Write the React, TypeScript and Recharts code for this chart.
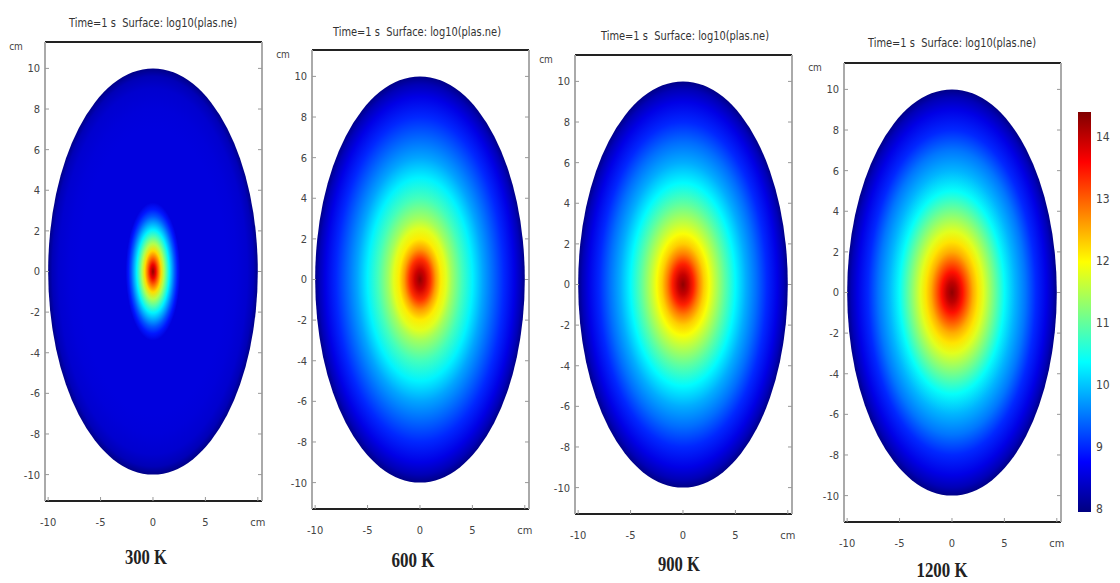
import React from 'react';
import { ScatterChart, XAxis, YAxis, ReferenceArea } from 'recharts';

// temperature of each case
const panelNames = ['300 K', '600 K', '900 K', '1200 K'];
const titleText = 'Time=1 s  Surface: log10(plas.ne)';

const xTicks = [-10, -5, 0, 5, 10];
const yTicks = [-10, -8, -6, -4, -2, 0, 2, 4, 6, 8, 10];
const colorTicks = [8, 9, 10, 11, 12, 13, 14];
const colorRange = [7.95, 14.4];

// log10(ne) read along the radius (fraction of the 10 cm boundary)
const radialStops = [0, 0.05, 0.1, 0.15, 0.2, 0.25, 0.3, 0.4, 0.5, 0.6, 0.7, 0.8, 0.9, 0.96, 1];
const ne300 = [8.55, 8.55, 8.55, 8.55, 8.55, 8.55, 8.55, 8.55, 8.55, 8.55, 8.55, 8.52, 8.45, 8.3, 8.0];
const ne600 = [14.3, 13.9, 13.3, 12.6, 12.1, 11.8, 11.4, 10.8, 10.3, 9.8, 9.4, 9.0, 8.6, 8.3, 8.0];
const ne900 = [14.3, 13.95, 13.4, 12.8, 12.3, 11.95, 11.6, 10.95, 10.35, 9.85, 9.45, 9.0, 8.6, 8.3, 8.0];
const ne1200 = [14.3, 14.0, 13.5, 13.0, 12.5, 12.15, 11.8, 11.1, 10.4, 9.9, 9.5, 9.0, 8.6, 8.3, 8.0];

// small hot spot at 300 K (half-widths in cm, profile on its own radius)
const blobExtent300 = [2.6, 3.4];
const blobStops = [0, 0.1, 0.2, 0.3, 0.4, 0.5, 0.6, 0.7, 0.8, 0.9, 1];
const blob300 = [14.3, 13.7, 12.9, 12.2, 11.5, 10.9, 10.3, 9.8, 9.3, 8.9, 8.55];

const profiles = [ne300, ne600, ne900, ne1200];

// plot frames
const panelLeft = [45, 312, 575, 844];
const panelTop = [42, 50, 55, 63];

const clamp = (v: number) => Math.max(0, Math.min(1, v));
function jet(v: number) {
  const t = clamp((v - colorRange[0]) / (colorRange[1] - colorRange[0]));
  const r = clamp(Math.min(4 * t - 1.5, -4 * t + 4.5));
  const g = clamp(Math.min(4 * t - 0.5, -4 * t + 3.5));
  const b = clamp(Math.min(4 * t + 0.5, -4 * t + 2.5));
  return `rgb(${Math.round(r * 255)},${Math.round(g * 255)},${Math.round(b * 255)})`;
}

const narrow = "'Liberation Sans Narrow', 'DejaVu Sans Condensed', sans-serif";
const tickFont = { fontSize: 11, fill: '#444', fontFamily: narrow };
const noTick = () => <g />;

function ellipseShape(id: string, stops: number[], values: number[]) {
  return (p: any) => (
    <g>
      <defs>
        <radialGradient id={id} cx="50%" cy="50%" r="50%">
          {stops.map((s, i) => (
            <stop key={i} offset={`${s * 100}%`} stopColor={jet(values[i])} />
          ))}
        </radialGradient>
      </defs>
      <ellipse cx={p.x + p.width / 2} cy={p.y + p.height / 2} rx={p.width / 2} ry={p.height / 2} fill={`url(#${id})`} />
    </g>
  );
}

function Panel({ idx }: { idx: number }) {
  return (
    <div style={{ position: 'absolute', left: panelLeft[idx] - 45, top: panelTop[idx] - 40 }}>
      <ScatterChart width={277} height={539} margin={{ top: 38, right: 13, bottom: 10, left: 0 }}>
        <XAxis xAxisId="b" type="number" dataKey="x" domain={[-10.3, 10.4]} allowDataOverflow ticks={xTicks}
          tickFormatter={(v: number) => (v === 10 ? 'cm' : String(v))} tick={tickFont} height={30}
          tickSize={-4} tickMargin={21} axisLine={{ stroke: '#222', strokeWidth: 2 }} tickLine={{ stroke: '#999' }} />
        <XAxis xAxisId="t" orientation="top" type="number" domain={[-10.3, 10.4]} allowDataOverflow ticks={xTicks}
          tick={noTick} height={2} tickSize={-4} axisLine={{ stroke: '#222', strokeWidth: 2 }} tickLine={{ stroke: '#999' }} />
        <YAxis yAxisId="l" type="number" dataKey="y" domain={[-11.3, 11.3]} allowDataOverflow ticks={yTicks}
          tick={tickFont} width={45} tickSize={-4} tickMargin={9}
          axisLine={{ stroke: '#aaa', strokeWidth: 2 }} tickLine={{ stroke: '#999' }} />
        <YAxis yAxisId="r" orientation="right" type="number" domain={[-11.3, 11.3]} allowDataOverflow ticks={yTicks}
          tick={noTick} width={2} tickSize={-4} axisLine={{ stroke: '#aaa', strokeWidth: 2 }} tickLine={{ stroke: '#999' }} />
        <ReferenceArea xAxisId="b" yAxisId="l" x1={-10} x2={10} y1={-10} y2={10}
          shape={ellipseShape(`g${idx}`, radialStops, profiles[idx])} />
        {idx === 0 && (
          <ReferenceArea xAxisId="b" yAxisId="l" x1={-blobExtent300[0]} x2={blobExtent300[0]}
            y1={-blobExtent300[1]} y2={blobExtent300[1]} shape={ellipseShape('blob0', blobStops, blob300)} />
        )}
      </ScatterChart>
    </div>
  );
}

const colorStops = [0, 0.125, 0.375, 0.625, 0.875, 1];

function ColorBar() {
  return (
    <div style={{ position: 'absolute', left: 1078, top: 107 }}>
      <ScatterChart width={43} height={410} margin={{ top: 5, right: 0, bottom: 5, left: 0 }}>
        <XAxis type="number" dataKey="x" domain={[0, 1]} allowDataOverflow hide />
        <YAxis type="number" dataKey="y" orientation="right" domain={colorRange} allowDataOverflow ticks={colorTicks}
          width={30} tick={{ ...tickFont, fontSize: 12, textAnchor: 'start' }} tickSize={0} tickMargin={5}
          axisLine={false} tickLine={false} />
        <ReferenceArea x1={0} x2={1} y1={colorRange[0]} y2={colorRange[1]}
          shape={(p: any) => (
            <g>
              <defs>
                <linearGradient id="cbar" x1="0" y1="1" x2="0" y2="0">
                  {colorStops.map((s, i) => (
                    <stop key={i} offset={`${s * 100}%`}
                      stopColor={jet(colorRange[0] + s * (colorRange[1] - colorRange[0]))} />
                  ))}
                </linearGradient>
              </defs>
              <rect x={p.x} y={p.y} width={p.width} height={p.height} fill="url(#cbar)" />
            </g>
          )} />
      </ScatterChart>
    </div>
  );
}

const titleX = [153, 417, 685, 952];
const titleY = [27, 36, 40, 47];
const nameX = [146, 413, 679, 942];
const nameY = [564, 567, 571, 577];
const nameW = [42, 43, 42, 51];

export default function App() {
  return (
    <div style={{ position: 'absolute', left: 0, top: 0, width: 1120, height: 583, background: '#fff', overflow: 'hidden' }}>
      {panelNames.map((_, i) => <Panel key={i} idx={i} />)}
      <ColorBar />
      <svg width={1120} height={583} style={{ position: 'absolute', left: 0, top: 0, pointerEvents: 'none' }}>
        {panelNames.map((name, i) => (
          <g key={i}>
            <text x={titleX[i]} y={titleY[i]} textAnchor="middle" textLength={168} lengthAdjust="spacingAndGlyphs"
              style={{ whiteSpace: 'pre' }} fontSize={12} fill="#333" fontFamily={narrow}>{titleText}</text>
            <text x={panelLeft[i] - 29} y={panelTop[i] + 8} textAnchor="middle" fontSize={10} fill="#444"
              fontFamily={narrow}>cm</text>
            <text x={nameX[i]} y={nameY[i]} textAnchor="middle" textLength={nameW[i]} lengthAdjust="spacingAndGlyphs"
              fontSize={21} fontWeight="bold" fill="#222" fontFamily="'Liberation Serif', serif">{name}</text>
          </g>
        ))}
      </svg>
    </div>
  );
}
